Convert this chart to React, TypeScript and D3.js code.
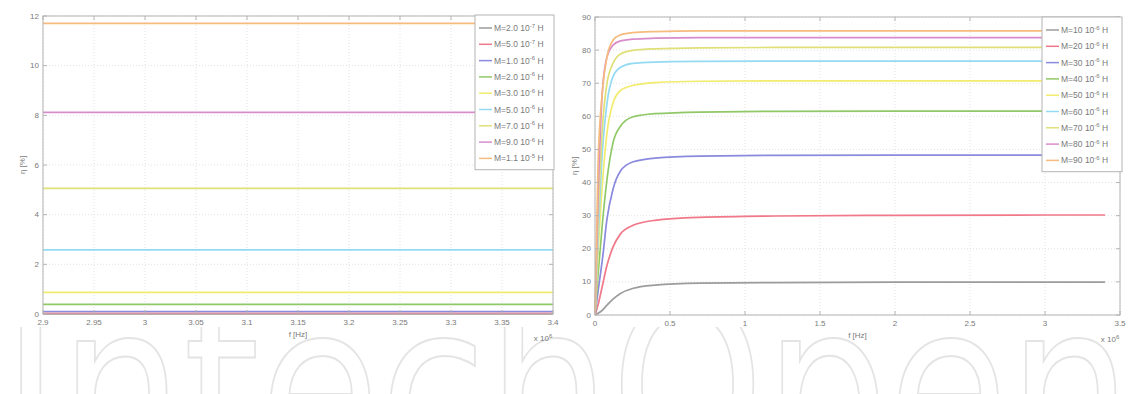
import React from "react";
import * as d3 from "d3";

// MATLAB-like series colours, washed out as in the scan
const colors = [
  "#9c9c9c",
  "#f07888",
  "#8a8ade",
  "#90c868",
  "#f2ec6e",
  "#94daf2",
  "#e0e078",
  "#d88ccb",
  "#f6bb7e",
];

// left panel: f = 2.9 .. 3.4 x10^6 Hz, flat efficiency lines
const leftMant = ["2.0", "5.0", "1.0", "2.0", "3.0", "5.0", "7.0", "9.0", "1.1"];
const leftExp = ["-7", "-7", "-6", "-6", "-6", "-6", "-6", "-6", "-5"];
const leftEta = [0.005, 0.025, 0.1, 0.39, 0.87, 2.58, 5.06, 8.12, 11.7];
const leftFreq = [2.9, 3.4];
const leftXTicks = [2.9, 2.95, 3, 3.05, 3.1, 3.15, 3.2, 3.25, 3.3, 3.35, 3.4];
const leftXLabels = ["2.9", "2.95", "3", "3.05", "3.1", "3.15", "3.2", "3.25", "3.3", "3.35", "3.4"];
const leftYTicks = [0, 2, 4, 6, 8, 10, 12];

// right panel: f = 0 .. 3.4 x10^6 Hz
const rightMant = ["10", "20", "30", "40", "50", "60", "70", "80", "90"];
const rightExp = ["-6", "-6", "-6", "-6", "-6", "-6", "-6", "-6", "-6"];
const rightFreq = [0, 0.02, 0.05, 0.08, 0.12, 0.17, 0.25, 0.4, 0.7, 1.2, 2, 3, 3.4];
const rightEta = [
  [0, 0.5, 1.5, 3.0, 4.8, 6.5, 8.0, 9.0, 9.6, 9.8, 9.9, 9.9, 9.9],
  [0, 3, 9, 15, 20.5, 24.5, 27, 28.6, 29.5, 29.9, 30.1, 30.2, 30.2],
  [0, 7, 17, 29, 38, 43.5, 46.2, 47.4, 48.0, 48.2, 48.3, 48.3, 48.3],
  [0, 12, 28, 41, 52, 57, 59.8, 60.8, 61.3, 61.5, 61.6, 61.6, 61.6],
  [0, 18, 40, 55, 64, 67.8, 69.3, 70.2, 70.6, 70.7, 70.7, 70.7, 70.7],
  [0, 22, 50, 64, 72, 74.8, 76, 76.4, 76.6, 76.7, 76.7, 76.7, 76.7],
  [0, 28, 57, 70, 76, 78.8, 79.9, 80.4, 80.7, 80.8, 80.8, 80.8, 80.8],
  [0, 35, 68, 78, 81.5, 82.8, 83.3, 83.6, 83.8, 83.8, 83.8, 83.8, 83.8],
  [0, 45, 68, 78, 83, 84.6, 85.3, 85.6, 85.8, 85.8, 85.8, 85.8, 85.8],
];
const rightXTicks = [0, 0.5, 1, 1.5, 2, 2.5, 3, 3.5];
const rightXLabels = ["0", "0.5", "1", "1.5", "2", "2.5", "3", "3.5"];
const rightYTicks = [0, 10, 20, 30, 40, 50, 60, 70, 80, 90];

const font = "'Liberation Sans', Arial, sans-serif";
const textColor = "#7a7a7a";
const axisColor = "#b4b4b4";

type Panel = {
  left: number;
  right: number;
  top: number;
  bottom: number;
  xDomain: [number, number];
  yDomain: [number, number];
  xTicks: number[];
  xLabels: string[];
  yTicks: number[];
  freq: number[];
  eta: number[][];
  mant: string[];
  exp: string[];
  legend: { x: number; y: number; w: number; row: number };
};

const Chart = ({ p }: { p: Panel }) => {
  const x = d3.scaleLinear().domain(p.xDomain).range([p.left, p.right]);
  const y = d3.scaleLinear().domain(p.yDomain).range([p.bottom, p.top]);
  const line = d3
    .line<number>()
    .x((_, i) => x(p.freq[i]))
    .y((d) => y(d))
    .curve(d3.curveMonotoneX);
  const lg = p.legend;
  const lgH = lg.row * p.mant.length + 8;

  return (
    <g fontFamily={font} fontSize={8} fill={textColor}>
      <rect x={p.left} y={p.top} width={p.right - p.left} height={p.bottom - p.top} fill="#fff" />
      {/* dotted grid */}
      {p.xTicks.map((t, i) => (
        <line key={"gx" + i} x1={x(t)} x2={x(t)} y1={p.top} y2={p.bottom} stroke="#e2e2e2" strokeDasharray="1,2" />
      ))}
      {p.yTicks.map((t, i) => (
        <line key={"gy" + i} x1={p.left} x2={p.right} y1={y(t)} y2={y(t)} stroke="#e2e2e2" strokeDasharray="1,2" />
      ))}
      {/* series */}
      {p.eta.map((s, i) => (
        <path key={"s" + i} d={line(s) || ""} fill="none" stroke={colors[i]} strokeWidth={1.7} />
      ))}
      {/* box and inward ticks */}
      <rect x={p.left} y={p.top} width={p.right - p.left} height={p.bottom - p.top} fill="none" stroke={axisColor} />
      {p.xTicks.map((t, i) => (
        <g key={"tx" + i} stroke={axisColor}>
          <line x1={x(t)} x2={x(t)} y1={p.bottom} y2={p.bottom - 4} />
          <line x1={x(t)} x2={x(t)} y1={p.top} y2={p.top + 4} />
        </g>
      ))}
      {p.yTicks.map((t, i) => (
        <g key={"ty" + i} stroke={axisColor}>
          <line x1={p.left} x2={p.left + 4} y1={y(t)} y2={y(t)} />
          <line x1={p.right} x2={p.right - 4} y1={y(t)} y2={y(t)} />
        </g>
      ))}
      {p.xTicks.map((t, i) => (
        <text key={"lx" + i} x={x(t)} y={p.bottom + 11} textAnchor="middle">
          {p.xLabels[i]}
        </text>
      ))}
      {p.yTicks.map((t, i) => (
        <text key={"ly" + i} x={p.left - 4} y={y(t) + 2.5} textAnchor="end">
          {t}
        </text>
      ))}
      <text x={(p.left + p.right) / 2} y={p.bottom + 23} textAnchor="middle">
        f [Hz]
      </text>
      <text x={p.right - 10} y={p.bottom + 27} textAnchor="middle">
        x 10<tspan dy={-3} fontSize={6}>6</tspan>
      </text>
      <text transform={`translate(${p.left - 18},${(p.top + p.bottom) / 2}) rotate(-90)`} textAnchor="middle">
        η [%]
      </text>
      {/* legend */}
      <rect x={lg.x} y={lg.y} width={lg.w} height={lgH} fill="#fff" stroke={axisColor} />
      {p.mant.map((m, i) => {
        const cy = lg.y + 13 + i * lg.row;
        return (
          <g key={"lg" + i} fontSize={8.5}>
            <line x1={lg.x + 4} x2={lg.x + 17} y1={cy} y2={cy} stroke={colors[i]} strokeWidth={1.5} />
            <text x={lg.x + 19} y={cy + 3}>
              M={m} 10<tspan dy={-3.5} fontSize={6}>{p.exp[i]}</tspan>
              <tspan dy={3.5}> H</tspan>
            </text>
          </g>
        );
      })}
    </g>
  );
};

export default function App() {
  const leftPanel: Panel = {
    left: 43,
    right: 553,
    top: 16,
    bottom: 314,
    xDomain: [2.9, 3.4],
    yDomain: [0, 12],
    xTicks: leftXTicks,
    xLabels: leftXLabels,
    yTicks: leftYTicks,
    freq: leftFreq,
    eta: leftEta.map((v) => leftFreq.map(() => v)),
    mant: leftMant,
    exp: leftExp,
    legend: { x: 475, y: 15, w: 79, row: 16.3 },
  };
  const rightPanel: Panel = {
    left: 595,
    right: 1120,
    top: 17,
    bottom: 315,
    xDomain: [0, 3.5],
    yDomain: [0, 90],
    xTicks: rightXTicks,
    xLabels: rightXLabels,
    yTicks: rightYTicks,
    freq: rightFreq,
    eta: rightEta,
    mant: rightMant,
    exp: rightExp,
    legend: { x: 1042, y: 17, w: 80, row: 16.3 },
  };

  return (
    <div style={{ position: "absolute", left: 0, top: 0 }}>
      <svg width={1135} height={394} style={{ display: "block", background: "#fff" }}>
        <defs>
          <clipPath id="wm">
            <rect x={0} y={327} width={1135} height={67} />
          </clipPath>
        </defs>
        {/* publisher watermark, only its top shows */}
        <g clipPath="url(#wm)">
          <text
            x={2}
            y={470}
            fontSize={235}
            fontFamily="'DejaVu Sans', sans-serif"
            fill="#fff"
            stroke="#e4e4e4"
            strokeWidth={2}
            textLength={1130}
            lengthAdjust="spacingAndGlyphs"
          >
            IntechOpen
          </text>
        </g>
        <Chart p={leftPanel} />
        <Chart p={rightPanel} />
      </svg>
    </div>
  );
}
